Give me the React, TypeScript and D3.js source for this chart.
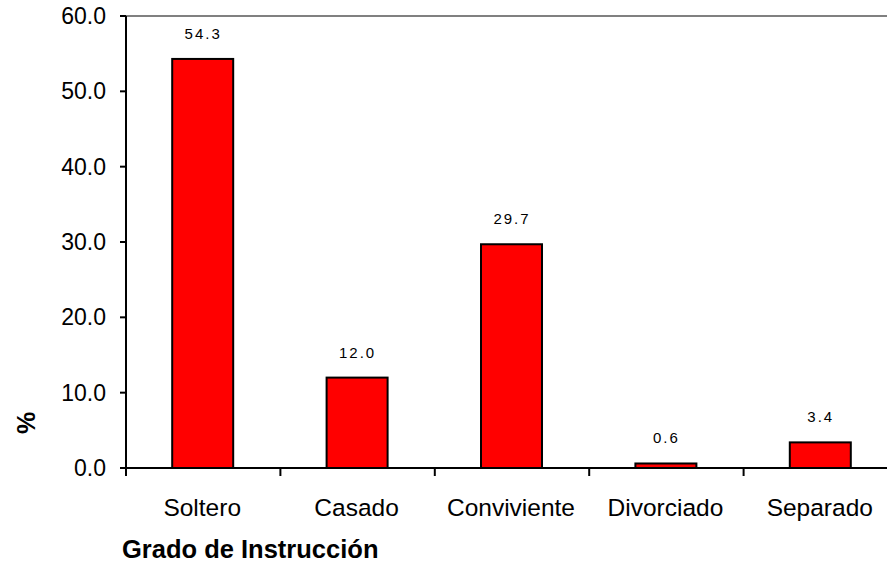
import React, { useEffect, useRef } from "react";
import * as d3 from "d3";

const categories = ["Soltero", "Casado", "Conviviente", "Divorciado", "Separado"];
const values = [54.3, 12.0, 29.7, 0.6, 3.4];
const yTicks = [0, 10, 20, 30, 40, 50, 60];

const FONT = "Liberation Sans, Arial, sans-serif";

const App = () => {
  const ref = useRef<SVGSVGElement | null>(null);

  useEffect(() => {
    const svg = d3.select(ref.current);
    svg.selectAll("*").remove();

    const left = 126;
    const top = 16;
    const bottom = 468;
    const right = 898;

    const x = d3.scaleBand().domain(categories).range([left, right]);
    const y = d3.scaleLinear().domain([0, 60]).range([bottom, top]);

    // top border
    svg.append("line")
      .attr("x1", left).attr("x2", 887)
      .attr("y1", top).attr("y2", top)
      .attr("stroke", "#808080").attr("stroke-width", 2);

    // bars
    svg.selectAll(".bar")
      .data(values)
      .enter()
      .append("rect")
      .attr("x", (d, i) => (x(categories[i]) || 0) + x.bandwidth() / 2 - 31)
      .attr("width", 61)
      .attr("y", d => y(d))
      .attr("height", d => bottom - y(d))
      .attr("fill", "#ff0000")
      .attr("stroke", "#000")
      .attr("stroke-width", 2);

    // value labels
    svg.selectAll(".lbl")
      .data(values)
      .enter()
      .append("text")
      .attr("x", (d, i) => (x(categories[i]) || 0) + x.bandwidth() / 2)
      .attr("y", d => y(d) - 20)
      .attr("text-anchor", "middle")
      .attr("font-family", FONT)
      .attr("font-size", 15)
      .attr("letter-spacing", 2)
      .text(d => d.toFixed(1));

    // y axis
    svg.append("line")
      .attr("x1", left).attr("x2", left)
      .attr("y1", top).attr("y2", bottom)
      .attr("stroke", "#000").attr("stroke-width", 2);
    yTicks.forEach(t => {
      svg.append("line")
        .attr("x1", left - 6).attr("x2", left)
        .attr("y1", y(t)).attr("y2", y(t))
        .attr("stroke", "#000").attr("stroke-width", 2);
      svg.append("text")
        .attr("x", 106).attr("y", y(t) + 8)
        .attr("text-anchor", "end")
        .attr("font-family", FONT)
        .attr("font-size", 23)
        .text(t.toFixed(1));
    });

    // x axis
    svg.append("line")
      .attr("x1", left - 6).attr("x2", 887)
      .attr("y1", bottom).attr("y2", bottom)
      .attr("stroke", "#000").attr("stroke-width", 2);
    categories.forEach((c, i) => {
      const bx = x(c) || 0;
      svg.append("line")
        .attr("x1", bx).attr("x2", bx)
        .attr("y1", bottom).attr("y2", bottom + 8)
        .attr("stroke", "#000").attr("stroke-width", 2);
      svg.append("text")
        .attr("x", bx + x.bandwidth() / 2 - 1)
        .attr("y", 516)
        .attr("text-anchor", "middle")
        .attr("font-family", FONT)
        .attr("font-size", 24.5)
        .text(c);
    });

    // axis titles
    svg.append("text")
      .attr("x", 122).attr("y", 558)
      .attr("font-family", FONT)
      .attr("font-size", 25.5)
      .attr("font-weight", "bold")
      .text("Grado de Instrucción");

    svg.append("text")
      .attr("transform", "translate(35,423) rotate(-90)")
      .attr("text-anchor", "middle")
      .attr("font-family", FONT)
      .attr("font-size", 25)
      .attr("font-weight", "bold")
      .text("%");
  }, []);

  return (
    <svg
      ref={ref}
      width={887}
      height={564}
      style={{ position: "absolute", left: 0, top: 0, background: "#fff" }}
    />
  );
};

export default App;
